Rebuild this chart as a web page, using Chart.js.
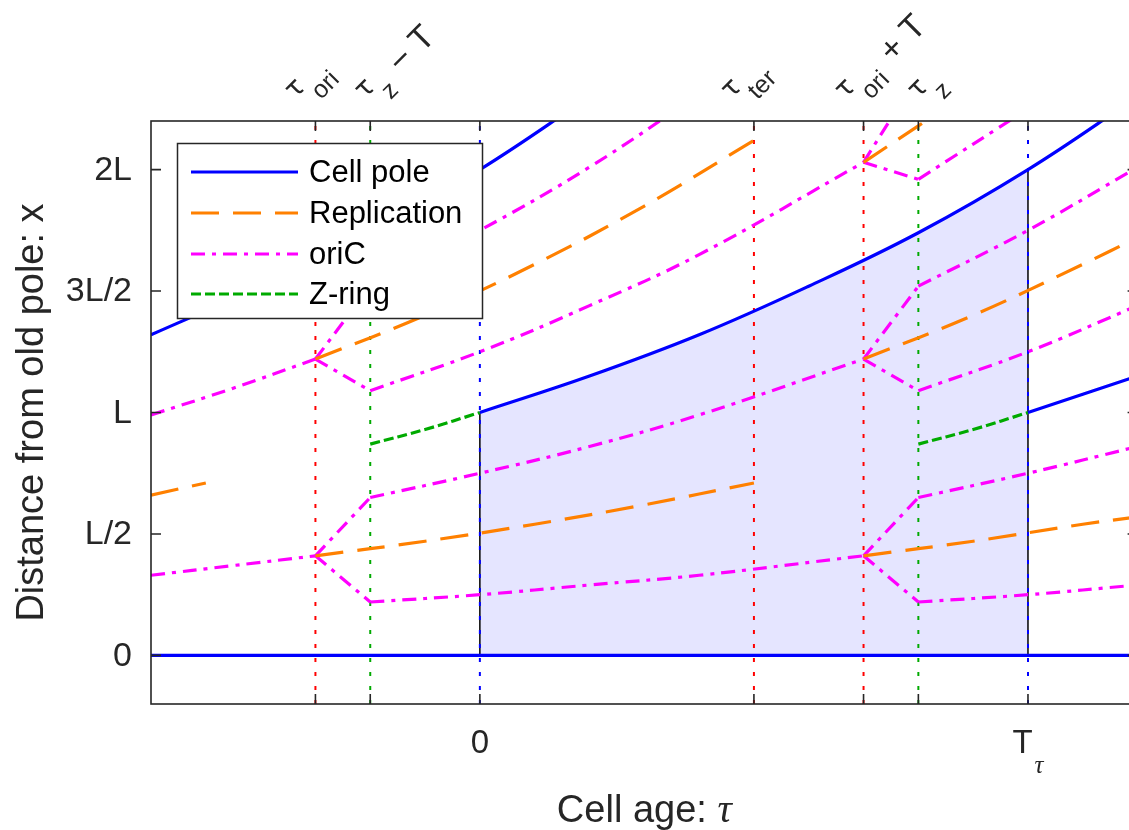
<!DOCTYPE html>
<html>
<head>
<meta charset="utf-8">
<script src="https://cdn.jsdelivr.net/npm/chart.js@4.4.0/dist/chart.umd.min.js"></script>
<style>
  html, body { margin: 0; padding: 0; overflow: hidden; background: #fff; }
  canvas { display: block; }
</style>
</head>
<body>
<canvas id="cycleChart" width="1150" height="830"></canvas>
<script>
// Cell age in units of T (x axis), distance from old pole in units of L (y axis)
const xRange = [-0.6, 1.2];
const yRange = [-0.2, 2.2];

// event times: tau_ori, tau_z - T, 0, tau_ter, tau_ori + T, tau_z, T
const eventTaus = [-0.3, -0.2, 0, 0.5, 0.7, 0.8, 1];
const topTickTaus = [-0.3, -0.2, 0.5, 0.7, 0.8];
const topTickSubs = ['ori', 'z', 'ter', 'ori', 'z'];
const topTickRest = ['', ' \u2212 T', '', ' + T', ''];
const bottomTickTaus = [0, 1];
const bottomTickLabels = ['0', 'T'];
const yTickValues = [0, 0.5, 1, 1.5, 2];
const yTickLabels = ['0', 'L/2', 'L', '3L/2', '2L'];

// cell poles
const poleLines = [
    [[-0.6, 0], [1.2, 0]],
    [[-0.6, 1.32], [-0.4, 1.52], [-0.2, 1.74], [0, 2.0], [0.2, 2.30]],
    [[0, 1.0], [0.2, 1.15], [0.4, 1.32], [0.6, 1.52], [0.8, 1.74], [1.0, 2.0], [1.2, 2.30]],
    [[1.0, 1.0], [1.2, 1.15]]
];
// one cell cycle, shaded
const shadeTop = [[0, 1.0], [0.2, 1.15], [0.4, 1.32], [0.6, 1.52], [0.8, 1.74], [1.0, 2.0]];
const shadeEdges = [[[0, 0], [0, 1.0]], [[1, 0], [1, 2.0]]];

// Z-ring
const zRingLines = [
    [[-0.2, 0.87], [-0.1, 0.93], [0, 1.0]],
    [[0.8, 0.87], [0.9, 0.93], [1.0, 1.0]]
];

// replication forks
const replicationLines = [
    [[-0.6, 0.66], [-0.5, 0.71]],
    [[-0.3, 0.41], [-0.1, 0.47], [0.1, 0.54], [0.3, 0.62], [0.5, 0.71]],
    [[-0.3, 1.22], [-0.1, 1.40], [0.1, 1.61], [0.3, 1.85], [0.5, 2.12]],
    [[0.7, 0.41], [0.9, 0.47], [1.1, 0.54], [1.2, 0.57]],
    [[0.7, 1.22], [0.9, 1.40], [1.1, 1.61], [1.2, 1.72]],
    [[0.7, 2.03], [0.8, 2.18], [0.9, 2.33]]
];

// oriC tracks between splits
const oriLines = [
    [[-0.6, 0.33], [-0.45, 0.37], [-0.3, 0.41]],
    [[-0.6, 0.99], [-0.45, 1.10], [-0.3, 1.22]],
    [[-0.2, 0.22], [0, 0.25], [0.2, 0.29], [0.4, 0.33], [0.7, 0.41]],
    [[-0.2, 0.65], [0, 0.75], [0.2, 0.86], [0.4, 0.99], [0.7, 1.22]],
    [[-0.2, 1.09], [0, 1.25], [0.2, 1.44], [0.4, 1.65], [0.7, 2.03]],
    [[-0.2, 1.52], [0, 1.75], [0.2, 2.01], [0.4, 2.31]],
    [[0.8, 0.22], [1.0, 0.25], [1.2, 0.29]],
    [[0.8, 0.65], [1.0, 0.75], [1.2, 0.86]],
    [[0.8, 1.09], [1.0, 1.25], [1.2, 1.44]],
    [[0.8, 1.52], [1.0, 1.75], [1.2, 2.01]],
    [[0.8, 1.96], [1.0, 2.25]]
];
// oriC splitting into two
const oriSplits = [
    [[-0.3, 0.41], [-0.2, 0.22]], [[-0.3, 0.41], [-0.2, 0.65]],
    [[-0.3, 1.22], [-0.2, 1.09]], [[-0.3, 1.22], [-0.2, 1.52]],
    [[0.7, 0.41], [0.8, 0.22]], [[0.7, 0.41], [0.8, 0.65]],
    [[0.7, 1.22], [0.8, 1.09]], [[0.7, 1.22], [0.8, 1.52]],
    [[0.7, 2.03], [0.8, 1.96]], [[0.7, 2.03], [0.8, 2.39]]
];

const legendNames = ['Cell pole', 'Replication', 'oriC', 'Z-ring'];

// styles
const BLUE = '#0000ff', ORANGE = '#ff8000', MAGENTA = '#ff00ff', GREEN = '#00aa00', RED = '#ff0000';
const eventColors = [RED, GREEN, BLUE, RED, RED, GREEN, BLUE];
const topLabelShift = [-20, -5, -22, -18, 0];
const legendColors = [BLUE, ORANGE, MAGENTA, GREEN];
const legendDashes = [[], [28, 14], [14, 7, 4, 7], [10, 4]];
const AXIS = '#262626';
const SANS = '"Liberation Sans", Arial, sans-serif';
const LW = 3.2;

function lineSet(points, color, dash, width, curved, order) {
    return {
        data: points.map(p => ({ x: p[0], y: p[1] })),
        borderColor: color,
        borderWidth: width,
        borderDash: dash,
        pointRadius: 0,
        fill: false,
        tension: curved ? 0.4 : 0,
        capBezierPoints: false,
        order: order
    };
}

const datasets = [];
datasets.push({
    data: shadeTop.map(p => ({ x: p[0], y: p[1] })),
    borderWidth: 0,
    borderColor: 'rgba(0,0,0,0)',
    backgroundColor: 'rgba(0,0,255,0.1)',
    fill: 'origin',
    pointRadius: 0,
    tension: 0.4,
    capBezierPoints: false,
    order: 6
});
shadeEdges.forEach(e => datasets.push(lineSet(e, '#000000', [], 1.5, false, 5)));
eventTaus.forEach((t, i) => datasets.push(lineSet([[t, yRange[0]], [t, yRange[1]]], eventColors[i], [4, 10], 2, false, 4)));
zRingLines.forEach(l => datasets.push(lineSet(l, GREEN, [10, 4], LW, true, 1)));
replicationLines.forEach(l => datasets.push(lineSet(l, ORANGE, [28, 14], LW, true, 1)));
oriLines.forEach(l => datasets.push(lineSet(l, MAGENTA, [14, 7, 4, 7], LW, true, 1)));
oriSplits.forEach(l => datasets.push(lineSet(l, MAGENTA, [14, 7, 4, 7], LW, false, 1)));
poleLines.forEach(l => datasets.push(lineSet(l, BLUE, [], LW, true, 0)));

// legend, frame, ticks and all texts
const decorations = {
    id: 'decorations',
    afterDraw(chart) {
        const ctx = chart.ctx;
        const xs = chart.scales.x, ys = chart.scales.y;
        const a = chart.chartArea;
        ctx.save();

        // legend box
        ctx.fillStyle = '#ffffff';
        ctx.fillRect(177.5, 143.5, 305, 175);
        ctx.strokeStyle = AXIS;
        ctx.lineWidth = 1.5;
        ctx.strokeRect(177.5, 143.5, 305, 175);
        const rows = [172, 213, 254, 294];
        legendNames.forEach((name, i) => {
            ctx.strokeStyle = legendColors[i];
            ctx.lineWidth = LW;
            ctx.setLineDash(legendDashes[i]);
            ctx.beginPath();
            ctx.moveTo(191, rows[i]);
            ctx.lineTo(298, rows[i]);
            ctx.stroke();
            ctx.setLineDash([]);
            ctx.fillStyle = '#000000';
            ctx.font = '31px ' + SANS;
            ctx.textAlign = 'left';
            ctx.textBaseline = 'middle';
            ctx.fillText(name, 309, rows[i] + 1);
        });

        // frame
        ctx.strokeStyle = AXIS;
        ctx.lineWidth = 1.6;
        ctx.strokeRect(a.left, a.top, a.right - a.left, a.bottom - a.top);

        // ticks (inward)
        ctx.beginPath();
        eventTaus.forEach(t => {
            const px = xs.getPixelForValue(t);
            ctx.moveTo(px, a.top); ctx.lineTo(px, a.top + 10);
            ctx.moveTo(px, a.bottom); ctx.lineTo(px, a.bottom - 10);
        });
        yTickValues.forEach(v => {
            const py = ys.getPixelForValue(v);
            ctx.moveTo(a.left, py); ctx.lineTo(a.left + 10, py);
            ctx.moveTo(a.right, py); ctx.lineTo(a.right - 10, py);
        });
        ctx.stroke();

        ctx.fillStyle = AXIS;

        // y tick labels
        ctx.font = '34px ' + SANS;
        ctx.textAlign = 'right';
        ctx.textBaseline = 'middle';
        yTickValues.forEach((v, i) => {
            ctx.fillText(yTickLabels[i], a.left - 19, ys.getPixelForValue(v) + 1);
        });

        // x tick labels
        ctx.textBaseline = 'alphabetic';
        bottomTickTaus.forEach((t, i) => {
            const px = xs.getPixelForValue(t);
            ctx.font = '33px ' + SANS;
            const w1 = ctx.measureText(bottomTickLabels[i]).width;
            if (i === 1) {
                ctx.font = 'italic 25px "Liberation Serif", serif';
                const w2 = ctx.measureText('\u03c4').width;
                const x0 = px - (w1 + w2 + 2) / 2;
                ctx.textAlign = 'left';
                ctx.font = '33px ' + SANS;
                ctx.fillText(bottomTickLabels[i], x0, 753);
                ctx.font = 'italic 25px "Liberation Serif", serif';
                ctx.fillText('\u03c4', x0 + w1 + 2, 773);
            } else {
                ctx.textAlign = 'center';
                ctx.fillText(bottomTickLabels[i], px, 753);
            }
        });

        // top rotated labels
        topTickTaus.forEach((t, i) => {
            const px = xs.getPixelForValue(t) + topLabelShift[i];
            ctx.save();
            ctx.translate(px, 89);
            ctx.rotate(-Math.PI / 4);
            ctx.textBaseline = 'alphabetic';
            ctx.font = '27px "DejaVu Sans", sans-serif';
            ctx.textAlign = 'center';
            ctx.fillText('\u03c4', 0, 7);
            ctx.textAlign = 'left';
            ctx.font = '25px ' + SANS;
            ctx.fillText(topTickSubs[i], 10, 26);
            const sw = ctx.measureText(topTickSubs[i]).width;
            if (topTickRest[i]) {
                ctx.font = '34px ' + SANS;
                ctx.fillText(topTickRest[i], 10 + sw + 4, 15);
            }
            ctx.restore();
        });

        // x axis title
        ctx.font = '38px ' + SANS;
        const part1 = 'Cell age: ';
        const w1 = ctx.measureText(part1).width;
        ctx.font = 'italic 40px "Liberation Serif", serif';
        const w2 = ctx.measureText('\u03c4').width;
        const cx = (a.left + a.right) / 2;
        ctx.textAlign = 'left';
        ctx.font = '38px ' + SANS;
        ctx.fillText(part1, cx - (w1 + w2) / 2, 822);
        ctx.font = 'italic 40px "Liberation Serif", serif';
        ctx.fillText('\u03c4', cx - (w1 + w2) / 2 + w1, 822);

        // y axis title
        ctx.save();
        ctx.translate(43, (a.top + a.bottom) / 2);
        ctx.rotate(-Math.PI / 2);
        ctx.font = '38px ' + SANS;
        ctx.textAlign = 'center';
        ctx.fillText('Distance from old pole: x', 0, 0);
        ctx.restore();

        ctx.restore();
    }
};

new Chart(document.getElementById('cycleChart'), {
    type: 'line',
    data: { datasets: datasets },
    options: {
        responsive: false,
        devicePixelRatio: 1,
        animation: false,
        events: [],
        layout: { padding: { left: 151, top: 121, right: 12.4, bottom: 126 } },
        plugins: {
            legend: { display: false },
            tooltip: { enabled: false }
        },
        scales: {
            x: { type: 'linear', min: xRange[0], max: xRange[1], display: false },
            y: { type: 'linear', min: yRange[0], max: yRange[1], display: false }
        }
    },
    plugins: [decorations]
});
</script>
</body>
</html>
